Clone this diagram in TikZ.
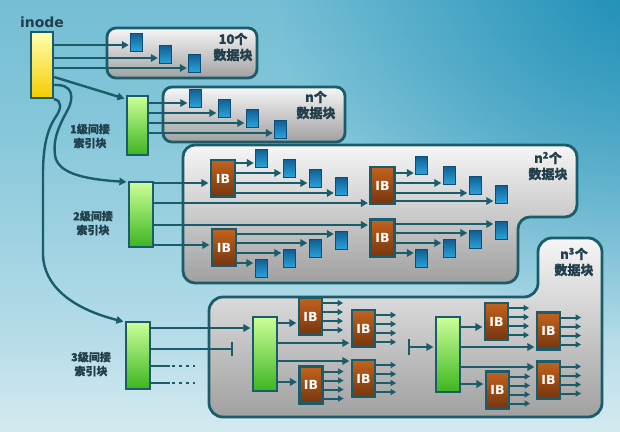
\documentclass[tikz,border=0pt]{standalone}
\usepackage{fontspec}
\setmainfont{DejaVu Sans}
\newfontfamily\cjk{Noto Sans CJK SC}[BoldFeatures={FakeBold=1}]
\usetikzlibrary{arrows.meta,fadings}
\definecolor{lc}{HTML}{1B5C6B}
\definecolor{txt}{HTML}{22404C}
\definecolor{boxtop}{HTML}{F6F6F6}
\definecolor{boxbot}{HTML}{A0A0A0}
\definecolor{dbtop}{HTML}{105E92}
\definecolor{dbbot}{HTML}{2AA3DB}
\definecolor{dbline}{HTML}{0C4E78}
\definecolor{ibtop}{HTML}{C4621D}
\definecolor{ibbot}{HTML}{74360F}
\definecolor{grtop}{HTML}{CCFF99}
\definecolor{grbot}{HTML}{3DB520}
\definecolor{yltop}{HTML}{FFFFB0}
\definecolor{ylbot}{HTML}{F5CC00}
\definecolor{bg0}{HTML}{F6FAFB}
\definecolor{bg1}{HTML}{E2F0F5}
\definecolor{bg2}{HTML}{B5DCE8}
\definecolor{bg3}{HTML}{86C7DA}
\definecolor{bg4}{HTML}{55AFCB}
\definecolor{bgdark}{HTML}{0F86B2}
\pgfdeclareverticalshading{bgsh}{100bp}{color(0bp)=(bg0); color(20bp)=(bg1); color(36bp)=(bg2); color(60bp)=(bg3); color(100bp)=(bg4)}
\tikzfading[name=radfade, inner color=transparent!15, outer color=transparent!100]
\newcommand\harr[3]{\draw[arr] (#1.east |- 0,#3) -- (#2.west |- 0,#3);}
\begin{document}
\begin{tikzpicture}[x=1pt,y=-1pt,
  conn/.style={draw=lc, line width=2.4pt},
  arr/.style={conn, -{Triangle[length=7pt,width=7.5pt]}, shorten >=1.5pt},
  sarr/.style={draw=lc, line width=2pt, -{Triangle[length=5.5pt,width=6pt]}},
  box/.style={draw=lc, line width=2.8pt, top color=boxtop, bottom color=boxbot},
  dblk/.style={minimum width=12pt, minimum height=18pt, inner sep=0pt, top color=dbtop, bottom color=dbbot, draw=dbline, line width=0.4pt},
  ib/.style={minimum width=24pt, minimum height=37pt, inner sep=0pt, top color=ibtop, bottom color=ibbot, draw=lc, line width=2.2pt, text=white, font=\bfseries\fontsize{12.5}{12.5}\selectfont},
  grn/.style={inner sep=0pt, top color=grtop, bottom color=grbot, draw=lc, line width=2.2pt},
  lbl/.style={text=txt, font=\cjk\bfseries\fontsize{13}{16}\selectfont, align=center, inner sep=0pt},
  lbls/.style={text=txt, font=\cjk\bfseries\fontsize{11}{14}\selectfont, align=center, inner sep=0pt},
]
\useasboundingbox (0,0) rectangle (620,431);
\begin{scope}
  \clip (0,0) rectangle (620,431);
  \shade[shading=bgsh] (0,0) rectangle (620,431);
  \fill[bgdark, path fading=radfade] (640,-20) circle (360);
\end{scope}

% boxes
\shade[box, rounded corners=9pt] (107,28) rectangle (257,78);
\shade[box, rounded corners=9pt] (163,87) rectangle (345,142);
\shade[box, rounded corners=12pt] (183,145) -- (577,145) -- (577,217) -- (518,217) -- (518,283) -- (183,283) -- cycle;
\shade[box, rounded corners=14pt] (209,297) -- (538,297) -- (538,238) -- (602,238) -- (602,417) -- (209,417) -- cycle;

% labels
\node[text=txt, font=\bfseries\fontsize{14}{14}\selectfont, inner sep=0pt] (inl) at (42,22) {inode};
\node[lbl] (t1) at (233,47) {10个\\数据块};
\node[lbl] (t2) at (316,105) {n个\\数据块};
\node[lbl] (t3) at (548,166) {n\textsuperscript{2}个\\数据块};
\node[lbl] (t4) at (574,262) {n\textsuperscript{3}个\\数据块};
\node[lbls] (s1) at (90,136) {1级间接\\索引块};
\node[lbls] (s2) at (93,223) {2级间接\\索引块};
\node[lbls] (s3) at (91,364) {3级间接\\索引块};

% index blocks
\node[grn, top color=yltop, bottom color=ylbot, minimum width=22pt, minimum height=66pt] (inode) at (42,65) {};
\node[grn, minimum width=21pt, minimum height=59pt] (L1) at (137.5,125.5) {};
\node[grn, minimum width=24pt, minimum height=65pt] (L2) at (141,214.5) {};
\node[grn, minimum width=24pt, minimum height=67pt] (L3) at (138,355.5) {};
\node[grn, minimum width=24pt, minimum height=74pt] (g4a) at (265,354) {};
\node[grn, minimum width=24pt, minimum height=75pt] (g4b) at (448,354.5) {};

% data blocks
\foreach \n/\x/\y in {d11/136.5/42, d12/165.5/54.5, d13/194.5/63,
  d21/195/98, d22/224/108, d23/252/118, d24/280.5/129,
  e11/261.5/158, e12/289/168, e13/315/178, e14/341.5/186.5,
  e21/341.5/240, e22/315/248.5, e23/289/258.5, e24/261/268,
  e31/421.5/165, e32/449/175, e33/475/185, e34/501/194,
  e41/501/230, e42/475/239.5, e43/449/248.5, e44/421.5/258.5}
  \node[dblk] (\n) at (\x,\y) {};

% IB blocks
\node[ib] (ib1) at (223,178.5) {IB};
\node[ib] (ib2) at (224,247.5) {IB};
\node[ib] (ib3) at (382.5,185.5) {IB};
\node[ib] (ib4) at (382.5,238) {IB};
\node[ib, minimum width=23pt] (iba) at (310.5,316.5) {IB};
\node[ib, minimum width=23pt] (ibb) at (363.5,328.5) {IB};
\node[ib, minimum width=23pt] (ibc) at (363.5,378.5) {IB};
\node[ib, minimum width=23pt] (ibd) at (311,385) {IB};
\node[ib, minimum width=23pt] (ibe) at (496.5,321.5) {IB};
\node[ib, minimum width=23pt] (ibf) at (548.5,331) {IB};
\node[ib, minimum width=23pt] (ibg) at (548.5,380) {IB};
\node[ib, minimum width=23pt] (ibh) at (497.5,390) {IB};

% inode direct pointers
\harr{inode}{d11}{45}
\harr{inode}{d12}{58}
\harr{inode}{d13}{68}
% inode to index blocks
\draw[arr] (inode.east |- 0,77) -- (L1.west |- 0,99);
\draw[arr] (inode.east |- 0,85) .. controls (72,84) and (76,96) .. (66,113)
  .. controls (58,128) and (53,140) .. (55,155)
  .. controls (57,172) and (80,179) .. (L2.west |- 0,182);
\draw[arr] (inode.south east) .. controls (62,101) and (62,108) .. (55,118)
  .. controls (46,132) and (43,150) .. (43,175) -- (43,255)
  .. controls (44,285) and (70,308) .. (L3.west |- 0,322);

% level 1
\harr{L1}{d21}{103}
\harr{L1}{d22}{113}
\harr{L1}{d23}{123}
\harr{L1}{d24}{133}

% level 2
\harr{L2}{ib1}{183}
\harr{L2}{ib3}{203}
\harr{L2}{ib4}{225}
\harr{L2}{ib2}{245}
\harr{ib1}{e11}{163}
\harr{ib1}{e12}{173}
\harr{ib1}{e13}{183}
\harr{ib1}{e14}{193}
\harr{ib2}{e21}{234}
\harr{ib2}{e22}{243}
\harr{ib2}{e23}{253}
\harr{ib2}{e24}{263}
\harr{ib3}{e31}{173}
\harr{ib3}{e32}{183}
\harr{ib3}{e33}{193}
\harr{ib3}{e34}{201}
\harr{ib4}{e41}{224}
\harr{ib4}{e42}{233}
\harr{ib4}{e43}{243}
\harr{ib4}{e44}{253}

% level 3
\harr{L3}{g4a}{328}
\coordinate (bar1) at (233,349);
\draw[conn, -{Bar[width=14pt]}] (L3.east |- bar1) -- (bar1);
\coordinate (dt1) at (170,366);
\coordinate (de1) at (195,366);
\coordinate (dt2) at (170,383);
\coordinate (de2) at (195,383);
\draw[conn] (L3.east |- dt1) -- (dt1);
\draw[conn] (L3.east |- dt2) -- (dt2);
\draw[conn, dash pattern=on 2.5pt off 4.5pt] ([xshift=2pt]dt1) -- (de1);
\draw[conn, dash pattern=on 2.5pt off 4.5pt] ([xshift=2pt]dt2) -- (de2);

\harr{g4a}{iba}{323}
\harr{g4a}{ibb}{343}
\harr{g4a}{ibc}{361}
\harr{g4a}{ibd}{382}
\coordinate (bar2) at (408,347);
\draw[conn, {Bar[width=16pt]}-{Triangle[length=7pt,width=7.5pt]}, shorten >=1.5pt] (bar2) -- (g4b.west |- bar2);
\harr{g4b}{ibe}{327}
\harr{g4b}{ibf}{347}
\harr{g4b}{ibg}{367}
\harr{g4b}{ibh}{384}

\foreach \b in {iba,ibb,ibc,ibd,ibe,ibf,ibg,ibh}
  \foreach \o in {-13.5,-4.5,4.5,13.5}
    \draw[sarr] (\b.east) ++(0,\o) -- ++(20,0);
\end{tikzpicture}
\end{document}
